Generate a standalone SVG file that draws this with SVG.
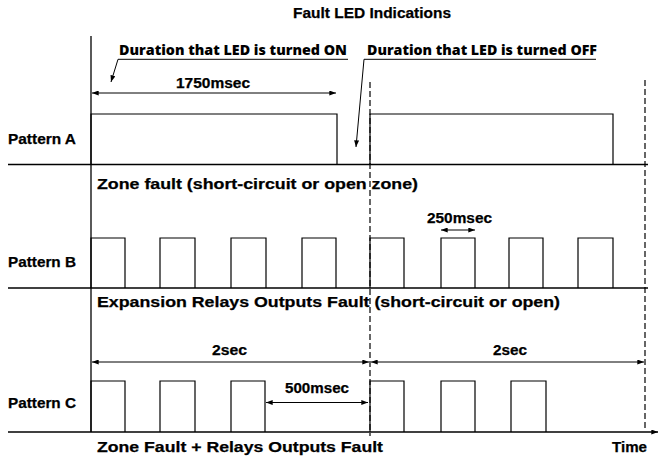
<svg xmlns="http://www.w3.org/2000/svg" width="659" height="458" viewBox="0 0 659 458">
<style>
.t{font-family:"Liberation Sans",Arial,sans-serif;font-weight:bold;font-size:14.5px;fill:#000;stroke:#000;stroke-width:0.25}
.m{font-family:"Open Sans","Noto Sans",sans-serif;font-weight:800;font-size:14.5px;fill:#000}
.ln{stroke:#000;stroke-width:1.3;fill:none}
.p{stroke:#000;stroke-width:1.2;fill:none}
.d{stroke:#000;stroke-width:1.2;fill:none;stroke-dasharray:6 3}
.ar{stroke:#000;stroke-width:1;fill:none}
</style>
<defs>
<marker id="ah" viewBox="0 0 8 6" refX="8" refY="3" markerWidth="7" markerHeight="5" markerUnits="userSpaceOnUse" orient="auto-start-reverse">
<path d="M0,0 L8,3 L0,6 Z" fill="#000"/>
</marker>
</defs>
<rect width="659" height="458" fill="#fff"/>

<g id="title">
<text class="t" x="293" y="18" textLength="158" lengthAdjust="spacingAndGlyphs">Fault LED Indications</text>
</g>

<g id="axes">
<line class="ln" x1="91" y1="36" x2="91" y2="432"/>
<line class="ln" x1="8" y1="164.5" x2="648" y2="164.5"/>
<line class="ln" x1="8" y1="288" x2="648" y2="288"/>
<line class="ln" x1="8" y1="432" x2="658" y2="432" marker-end="url(#ah)"/>
<line class="d" x1="370" y1="82" x2="370" y2="436"/>
<line class="d" x1="645" y1="80" x2="645" y2="430"/>
</g>

<g id="patternA">
<text class="t" x="8" y="144" textLength="68" lengthAdjust="spacingAndGlyphs">Pattern A</text>
<polyline class="p" points="91,164.5 91,114 337,114 337,164.5"/>
<polyline class="p" points="370,164.5 370,114 613,114 613,164.5"/>
</g>

<g id="annotations">
<text class="m" x="119" y="55" textLength="228" lengthAdjust="spacingAndGlyphs">Duration that LED is turned ON</text>
<text class="m" x="367" y="55" textLength="230" lengthAdjust="spacingAndGlyphs">Duration that LED is turned OFF</text>
<text class="t" x="176" y="88" textLength="74" lengthAdjust="spacingAndGlyphs">1750msec</text>
</g>

<g id="connectors">
<polyline class="ar" points="348,59.3 118,59.3 111,82" marker-end="url(#ah)"/>
<polyline class="ar" points="596,59.3 364,59.3 356,147" marker-end="url(#ah)"/>
<line class="ar" x1="92" y1="93" x2="336" y2="93" marker-start="url(#ah)" marker-end="url(#ah)"/>
<line class="ar" x1="441" y1="230" x2="475" y2="230" marker-start="url(#ah)" marker-end="url(#ah)"/>
<line class="ar" x1="92" y1="362" x2="369" y2="362" marker-start="url(#ah)" marker-end="url(#ah)"/>
<line class="ar" x1="371" y1="362" x2="644" y2="362" marker-start="url(#ah)" marker-end="url(#ah)"/>
<line class="ar" x1="266" y1="402.5" x2="368" y2="402.5" marker-start="url(#ah)" marker-end="url(#ah)"/>
</g>

<g id="patternB">
<text class="t" x="97" y="189" textLength="321" lengthAdjust="spacingAndGlyphs">Zone fault (short-circuit or open zone)</text>
<text class="t" x="427" y="223" textLength="65" lengthAdjust="spacingAndGlyphs">250msec</text>
<text class="t" x="8" y="267" textLength="68" lengthAdjust="spacingAndGlyphs">Pattern B</text>
<polyline class="p" points="91,288 91,238 125,238 125,288"/>
<polyline class="p" points="160,288 160,238 195,238 195,288"/>
<polyline class="p" points="231,288 231,238 266,238 266,288"/>
<polyline class="p" points="302,288 302,238 336,238 336,288"/>
<polyline class="p" points="370,288 370,238 404,238 404,288"/>
<polyline class="p" points="441,288 441,238 475,238 475,288"/>
<polyline class="p" points="509,288 509,238 543,238 543,288"/>
<polyline class="p" points="578,288 578,238 613,238 613,288"/>
</g>

<g id="patternC">
<text class="t" x="97" y="307" textLength="463" lengthAdjust="spacingAndGlyphs">Expansion Relays Outputs Fault (short-circuit or open)</text>
<text class="t" x="212" y="355" textLength="35" lengthAdjust="spacingAndGlyphs">2sec</text>
<text class="t" x="493" y="355" textLength="34" lengthAdjust="spacingAndGlyphs">2sec</text>
<text class="t" x="285" y="393" textLength="64" lengthAdjust="spacingAndGlyphs">500msec</text>
<text class="t" x="8" y="408" textLength="68" lengthAdjust="spacingAndGlyphs">Pattern C</text>
<polyline class="p" points="91,432 91,381 125,381 125,432"/>
<polyline class="p" points="160,432 160,381 195,381 195,432"/>
<polyline class="p" points="231,432 231,381 265,381 265,432"/>
<polyline class="p" points="370,432 370,381 404,381 404,432"/>
<polyline class="p" points="441,432 441,381 475,381 475,432"/>
<polyline class="p" points="511,432 511,381 546,381 546,432"/>
<text class="t" x="97" y="452" textLength="286" lengthAdjust="spacingAndGlyphs">Zone Fault + Relays Outputs Fault</text>
<text class="t" x="612" y="452" textLength="35" lengthAdjust="spacingAndGlyphs">Time</text>
</g>
</svg>
